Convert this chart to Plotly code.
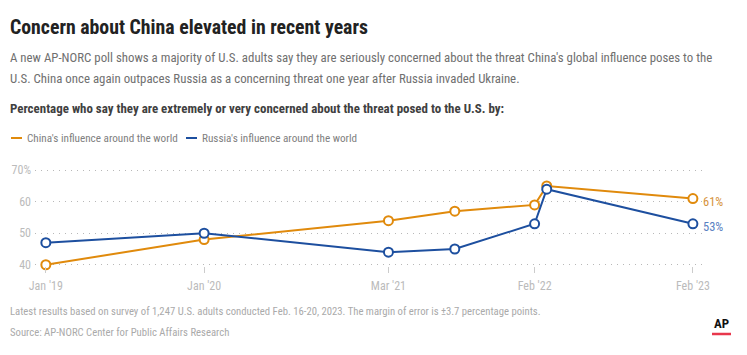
import plotly.graph_objects as go

# ---- data ----
dates = ["2019-01-01", "2020-01-01", "2021-03-01", "2021-08-01", "2022-02-01", "2022-03-01", "2023-02-01"]
china = [40, 48, 54, 57, 59, 65, 61]
russia = [47, 50, 44, 45, 53, 64, 53]
tick_dates = ["2019-01-01", "2020-01-01", "2021-03-01", "2022-02-01", "2023-02-01"]
tick_labels = ["Jan '19", "Jan '20", "Mar '21", "Feb '22", "Feb '23"]
y_ticks = [40, 50, 60, 70]
y_labels = ["40", "50", "60", "70%"]

ORANGE = "#e08a0c"
BLUE = "#1d4f9f"
FONT = "Roboto Condensed, DejaVu Sans Condensed, sans-serif"

OFF = 8  # page body margin of the browser
W, H = 747 - OFF, 355 - OFF
L, R, T, B = 35 - OFF, 45, 169 - OFF, 89
PW, PH = W - L - R, H - T - B


def px(x):
    return (x - OFF - L) / PW


def py(y):
    return (H - B - (y - OFF)) / PH


fig = go.Figure()
for name, vals, col in [("China's influence around the world", china, ORANGE),
                        ("Russia's influence around the world", russia, BLUE)]:
    fig.add_trace(go.Scatter(
        x=dates, y=vals, mode="lines+markers", name=name,
        line=dict(color=col, width=2),
        marker=dict(size=9, color="white", line=dict(color=col, width=2)),
        cliponaxis=False, showlegend=False, hoverinfo="x+y"))

ann = []
ann.append(dict(text="<b>Concern about China elevated in recent years</b>", x=px(8), y=py(28),
                xanchor="left", yanchor="middle", font=dict(size=19.8, color="#222", family=FONT)))
ann.append(dict(text="A new AP-NORC poll shows a majority of U.S. adults say they are seriously concerned about the threat China's global influence poses to the",
                x=px(8), y=py(57), xanchor="left", yanchor="middle", font=dict(size=12.85, color="#707070", family=FONT)))
ann.append(dict(text="U.S. China once again outpaces Russia as a concerning threat one year after Russia invaded Ukraine.",
                x=px(8), y=py(78), xanchor="left", yanchor="middle", font=dict(size=12.85, color="#707070", family=FONT)))
ann.append(dict(text="<b>Percentage who say they are extremely or very concerned about the threat posed to the U.S. by:</b>",
                x=px(8), y=py(108), xanchor="left", yanchor="middle", font=dict(size=12.95, color="#404040", family=FONT)))
ann.append(dict(text="China's influence around the world", x=px(25), y=py(138), xanchor="left", yanchor="middle",
                font=dict(size=11.2, color="#808080", family=FONT)))
ann.append(dict(text="Russia's influence around the world", x=px(200), y=py(138), xanchor="left", yanchor="middle",
                font=dict(size=11.2, color="#808080", family=FONT)))
ann.append(dict(text="Latest results based on survey of 1,247 U.S. adults conducted Feb. 16-20, 2023. The margin of error is ±3.7 percentage points.",
                x=px(8), y=py(311), xanchor="left", yanchor="middle", font=dict(size=10.7, color="#aaaaaa", family=FONT)))
ann.append(dict(text="Source: AP-NORC Center for Public Affairs Research",
                x=px(8), y=py(332), xanchor="left", yanchor="middle", font=dict(size=10.7, color="#aaaaaa", family=FONT)))
ann.append(dict(text="<b>AP</b>", x=px(721.5), y=py(323.5), xanchor="center", yanchor="middle",
                font=dict(size=13, color="#111", family="Roboto Condensed, Liberation Sans, sans-serif")))
for a in ann:
    a.update(xref="paper", yref="paper", showarrow=False)

# end labels
ann.append(dict(text="61%", x=dates[-1], y=china[-1], xref="x", yref="y", xanchor="left", yanchor="middle",
                xshift=8, yshift=-3, showarrow=False, font=dict(size=12.5, color="#d6933c", family=FONT)))
ann.append(dict(text="53%", x=dates[-1], y=russia[-1], xref="x", yref="y", xanchor="left", yanchor="middle",
                xshift=8, yshift=-3, showarrow=False, font=dict(size=12.5, color="#5a7fc2", family=FONT)))

shapes = [
    dict(type="line", xref="paper", yref="paper", x0=px(11), x1=px(22), y0=py(138), y1=py(138),
         line=dict(color=ORANGE, width=2)),
    dict(type="line", xref="paper", yref="paper", x0=px(186), x1=px(197), y0=py(138), y1=py(138),
         line=dict(color=BLUE, width=2)),
    dict(type="line", xref="paper", yref="paper", x0=px(712), x1=px(731), y0=py(334), y1=py(334),
         line=dict(color="#e8374c", width=2.5)),
]

fig.update_layout(
    width=W, height=H, margin=dict(l=L, r=R, t=T, b=B, autoexpand=False),
    paper_bgcolor="white", plot_bgcolor="white",
    font=dict(family=FONT, color="#bbb", size=12),
    annotations=ann, shapes=shapes, showlegend=False,
    xaxis=dict(type="date", range=["2018-12-07", "2023-02-22"], tickvals=tick_dates, ticktext=tick_labels,
               showgrid=False, zeroline=False, showline=False, ticks="outside", ticklen=6,
               tickcolor="#ccc", tickwidth=1, tickfont=dict(size=12, color="#bbb"), fixedrange=True,
               automargin=False, ticklabelstandoff=3),
    yaxis=dict(range=[39.6, 70.4], tickvals=y_ticks, ticktext=y_labels, showgrid=True,
               gridcolor="#b8b8b8", griddash="1px,5px", gridwidth=1, zeroline=False, showline=False,
               ticks="", tickfont=dict(size=12, color="#bbb"), fixedrange=True, automargin=False,
               ticklabelstandoff=3),
)

fig.write_html("out.html")
